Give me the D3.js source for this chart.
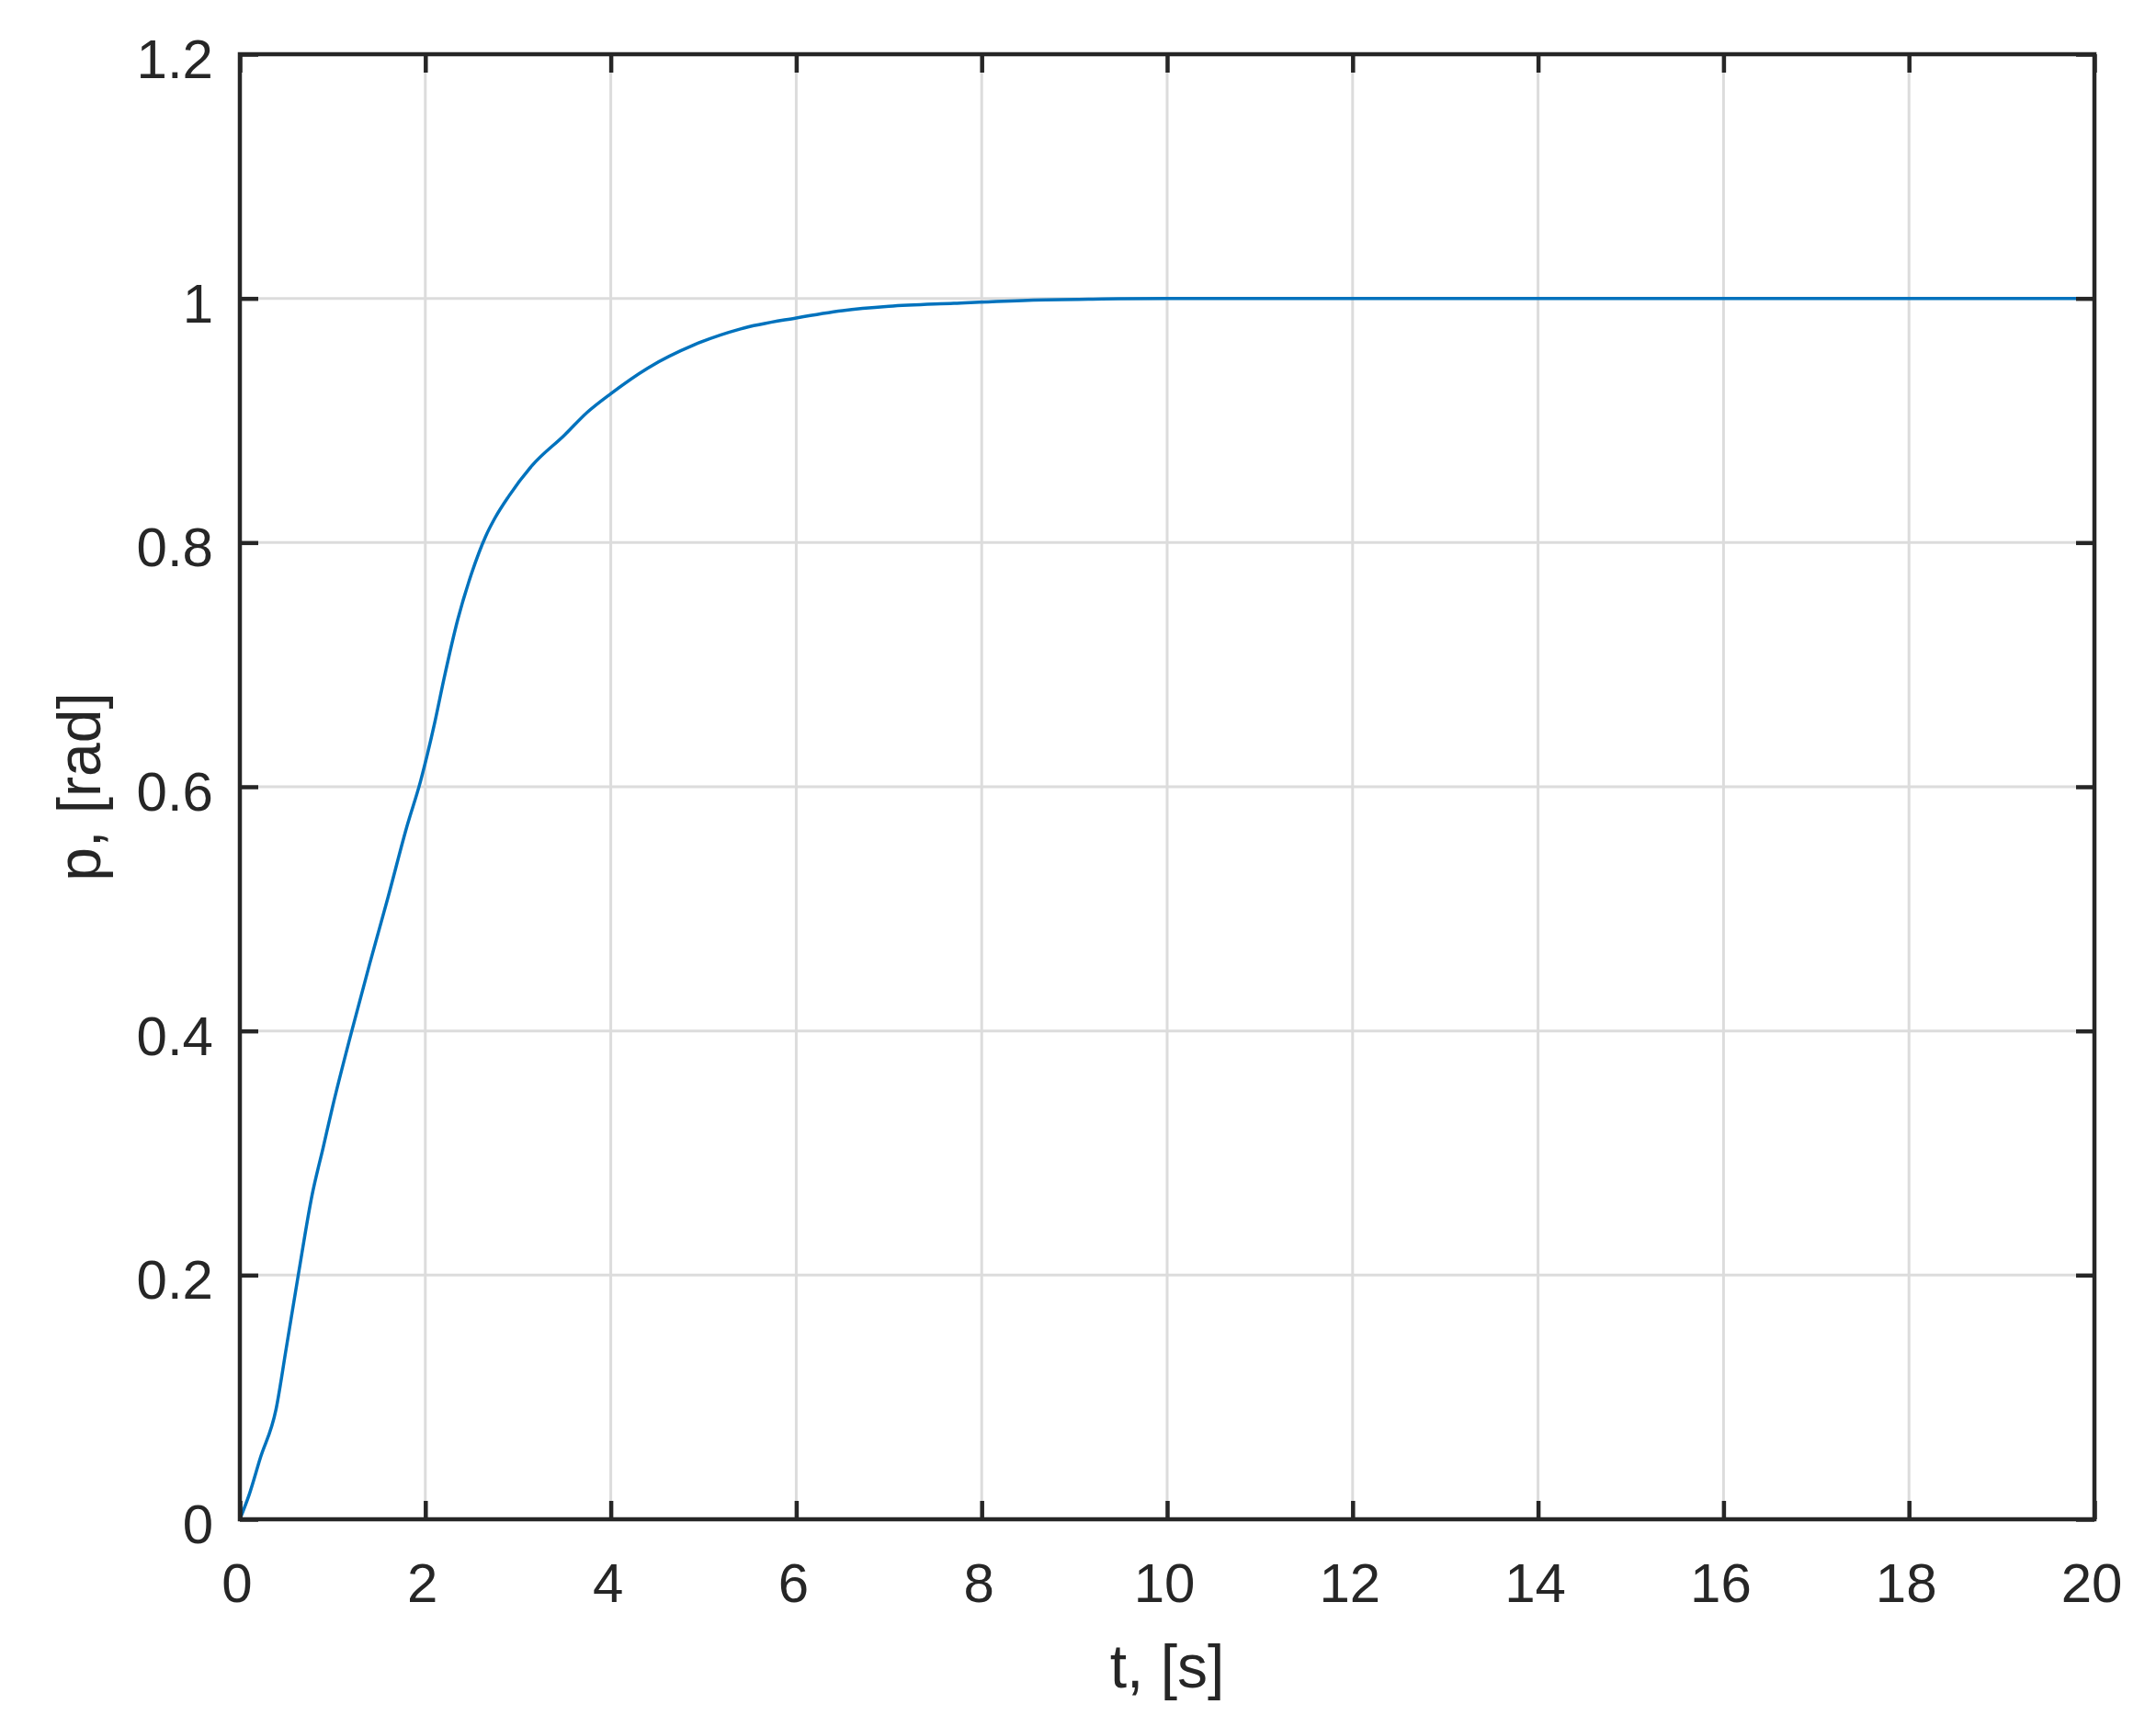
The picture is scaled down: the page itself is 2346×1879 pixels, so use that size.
<!DOCTYPE html>
<html>
<head>
<meta charset="utf-8">
<script src="https://cdn.jsdelivr.net/npm/d3@7"></script>
<style>
  html, body { margin: 0; padding: 0; background: #fff; }
  svg { display: block; }
  text { font-family: "Liberation Sans", Arial, Helvetica, sans-serif; fill: #262626; }
</style>
</head>
<body>
<script>
// Data
const tValues = [0, 0.1, 0.22, 0.39, 0.5, 0.63, 0.78, 0.9, 1.0, 1.2, 1.4, 1.6, 1.8, 1.95, 2.1, 2.2, 2.35, 2.5, 2.65, 2.75, 2.9, 3.15, 3.5, 3.75, 4.0, 4.4, 4.9, 5.4, 6.0, 6.5, 7.0, 7.7, 8.5, 9.3, 10, 12, 14, 16, 18, 20];
const pValues = [0, 0.02, 0.05, 0.09, 0.14, 0.2, 0.266, 0.305, 0.338, 0.398, 0.455, 0.51, 0.567, 0.605, 0.652, 0.688, 0.737, 0.775, 0.805, 0.82, 0.838, 0.863, 0.888, 0.907, 0.922, 0.943, 0.962, 0.975, 0.984, 0.99, 0.9935, 0.996, 0.9985, 0.9995, 1, 1, 1, 1, 1, 1];
const xTicks = [0, 2, 4, 6, 8, 10, 12, 14, 16, 18, 20];
const yTicks = [0, 0.2, 0.4, 0.6, 0.8, 1, 1.2];
const xTickLabels = ["0", "2", "4", "6", "8", "10", "12", "14", "16", "18", "20"];
const yTickLabels = ["0", "0.2", "0.4", "0.6", "0.8", "1", "1.2"];
const xLabel = "t, [s]";
const yLabel = "p, [rad]";

const W = 2346, H = 1879;
const L = 261, R = 2279, T = 59, B = 1653;

const svg = d3.select("body").append("svg").attr("width", W).attr("height", H);
svg.append("rect").attr("width", W).attr("height", H).attr("fill", "#fff");

const x = d3.scaleLinear().domain([0, 20]).range([L, R]);
const y = d3.scaleLinear().domain([0, 1.2]).range([B, T]);

// grid
const grid = svg.append("g");
grid.selectAll("line.gx").data(xTicks).enter().append("line")
  .attr("x1", d => x(d)).attr("x2", d => x(d)).attr("y1", T).attr("y2", B)
  .attr("stroke", "#dcdcdc").attr("stroke-width", 3);
grid.selectAll("line.gy").data(yTicks).enter().append("line")
  .attr("y1", d => y(d)).attr("y2", d => y(d)).attr("x1", L).attr("x2", R)
  .attr("stroke", "#dcdcdc").attr("stroke-width", 3);

// curve
const line = d3.line().x((d, i) => x(tValues[i])).y(d => y(d)).curve(d3.curveMonotoneX);
svg.append("path").datum(pValues).attr("d", line)
  .attr("fill", "none").attr("stroke", "#0072BD").attr("stroke-width", 3.5)
  .attr("stroke-linejoin", "round");

// axes (MATLAB style: inward ticks, box, mirrored ticks)
const tickLen = 20;
const axisColor = "#262626";
const axW = 4.5;

function styleAxis(g) {
  g.select(".domain").remove();
  g.selectAll(".tick line").attr("stroke", axisColor).attr("stroke-width", axW);
  g.selectAll(".tick text").remove();
}

svg.append("g").attr("transform", `translate(0,${B})`)
  .call(d3.axisBottom(x).tickValues(xTicks).tickSizeInner(-tickLen).tickSizeOuter(0))
  .call(styleAxis);
svg.append("g").attr("transform", `translate(0,${T})`)
  .call(d3.axisTop(x).tickValues(xTicks).tickSizeInner(-tickLen).tickSizeOuter(0))
  .call(styleAxis);
svg.append("g").attr("transform", `translate(${L},0)`)
  .call(d3.axisLeft(y).tickValues(yTicks).tickSizeInner(-tickLen).tickSizeOuter(0))
  .call(styleAxis);
svg.append("g").attr("transform", `translate(${R},0)`)
  .call(d3.axisRight(y).tickValues(yTicks).tickSizeInner(-tickLen).tickSizeOuter(0))
  .call(styleAxis);

svg.append("rect").attr("x", L).attr("y", T).attr("width", R - L).attr("height", B - T)
  .attr("fill", "none").attr("stroke", axisColor).attr("stroke-width", axW);

// tick labels
svg.append("g").selectAll("text").data(xTicks).enter().append("text")
  .attr("x", d => x(d) - 3).attr("y", 1743)
  .attr("text-anchor", "middle").attr("font-size", 60)
  .text((d, i) => xTickLabels[i]);
svg.append("g").selectAll("text").data(yTicks).enter().append("text")
  .attr("x", 232).attr("y", d => y(d) + 26)
  .attr("text-anchor", "end").attr("font-size", 60)
  .text((d, i) => yTickLabels[i]);

// axis labels
svg.append("text").attr("x", (L + R) / 2).attr("y", 1836)
  .attr("text-anchor", "middle").attr("font-size", 66).text(xLabel);
svg.append("text").attr("transform", `translate(109,${(T + B) / 2}) rotate(-90)`)
  .attr("text-anchor", "middle").attr("font-size", 66).text(yLabel);
</script>
</body>
</html>
